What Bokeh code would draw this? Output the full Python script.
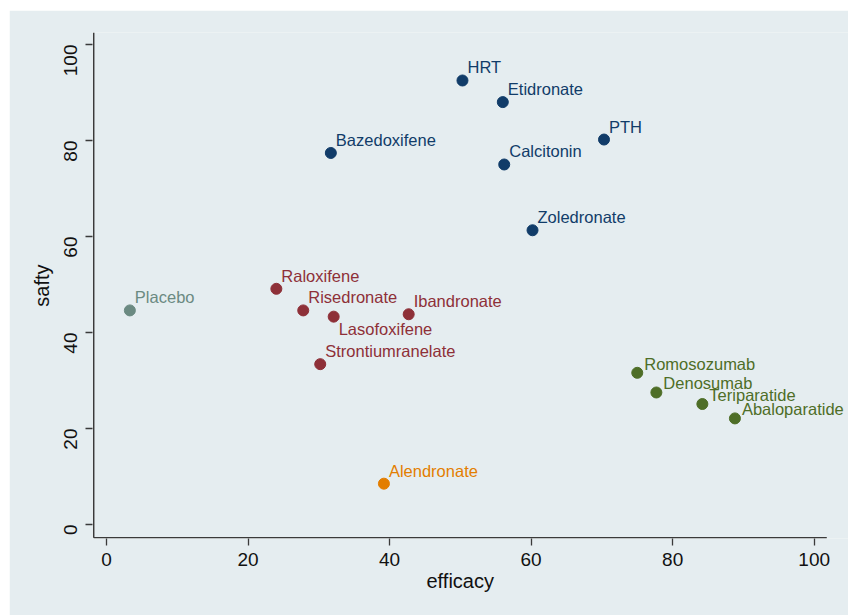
from bokeh.plotting import figure
from bokeh.models import ColumnDataSource, Range1d, FixedTicker, Label, Title
from bokeh.embed import file_html
from bokeh.resources import INLINE
import math

# Treatments with their efficacy and safety scores
drugs = ["HRT", "Etidronate", "PTH", "Bazedoxifene", "Calcitonin", "Zoledronate",
         "Raloxifene", "Placebo", "Risedronate", "Lasofoxifene", "Ibandronate",
         "Strontiumranelate", "Alendronate",
         "Romosozumab", "Denosumab", "Teriparatide", "Abaloparatide"]
efficacy = [50.3, 56.0, 70.3, 31.7, 56.2, 60.2,
            24.0, 3.3, 27.8, 32.1, 42.7,
            30.2, 39.2,
            75.0, 77.7, 84.2, 88.8]
safety = [92.5, 88.0, 80.2, 77.4, 75.0, 61.3,
          49.1, 44.6, 44.6, 43.3, 43.8,
          33.4, 8.5,
          31.6, 27.5, 25.1, 22.1]
cluster = ["A", "A", "A", "A", "A", "A",
           "B", "P", "B", "B", "B",
           "B", "C",
           "D", "D", "D", "D"]
# clock position of each marker label
label_pos = [2, 2, 2, 2, 2, 2,
             2, 2, 2, 4, 2,
             2, 2,
             3, 3, 3, 3]

x_ticks = [0, 20, 40, 60, 80, 100]
y_ticks = [0, 20, 40, 60, 80, 100]

cluster_colors = {"A": "#113C69", "B": "#8E3038", "P": "#6B8A82",
                  "C": "#E37E00", "D": "#4E6E27"}
# screen offsets (right, up) of the label's vertical middle from the marker centre
pos_offsets = {2: (5, 13), 3: (7, 9), 4: (5, -12)}

colors = [cluster_colors[c] for c in cluster]
src = ColumnDataSource(dict(drug=drugs, x=efficacy, y=safety, color=colors))

BG = "#E5EDF0"
FONT = "Liberation Sans"
AXC = "#3A3A3A"
TXT = "#111111"

# plotted area runs to the right edge so long labels are not cut off;
# the axis lines themselves stop at the axis extents below
X0, X1 = -1.98, 104.85
Y0, Y1 = -2.92, 102.5
AX_X0, AX_X1 = -1.81, 101.78
AX_Y0, AX_Y1 = -2.75, 102.5

W, H = 839, 605
p = figure(width=W, height=H, output_backend="svg", toolbar_location=None,
           x_range=Range1d(X0, X1), y_range=Range1d(Y0, Y1),
           min_border_left=83, min_border_right=0, min_border_top=22,
           min_border_bottom=77)
p.margin = (10, 0, 0, 9)
p.background_fill_color = BG
p.border_fill_color = BG
p.outline_line_color = None
p.grid.visible = False

# axis lines
p.segment(x0=[AX_X0, AX_X0], y0=[AX_Y0, AX_Y0], x1=[AX_X1, AX_X0], y1=[AX_Y0, AX_Y1],
          line_color=AXC, line_width=1.5)

p.scatter("x", "y", source=src, size=11, fill_color="color", line_color="color")

for name, xv, yv, col, pos in zip(drugs, efficacy, safety, colors, label_pos):
    dx, dy = pos_offsets[pos]
    p.add_layout(Label(x=xv, y=yv, text=name, x_offset=dx, y_offset=dy,
                       text_color=col, text_font=FONT, text_font_size="16.5px",
                       text_baseline="middle", text_align="left"))

for ax in (p.xaxis[0], p.yaxis[0]):
    ax.axis_line_color = None
    ax.major_tick_line_color = AXC
    ax.major_tick_line_width = 1.3
    ax.major_tick_out = 7
    ax.major_tick_in = 0
    ax.minor_tick_line_color = None
    ax.major_label_text_font = FONT
    ax.major_label_text_font_size = "19px"
    ax.major_label_text_color = TXT
    ax.axis_label_text_font = FONT
    ax.axis_label_text_font_size = "20px"
    ax.axis_label_text_font_style = "normal"
    ax.axis_label_text_color = TXT

p.xaxis.ticker = FixedTicker(ticks=x_ticks)
p.yaxis.ticker = FixedTicker(ticks=y_ticks)
p.yaxis.axis_label = "safty"
p.yaxis.major_label_orientation = math.pi / 2
p.xaxis.major_label_standoff = 7
p.yaxis.major_label_standoff = 15
p.yaxis.axis_label_standoff = 2

# x-axis title, set under the middle of the drawn axis line
p.add_layout(Title(text="efficacy", align="left", offset=334, standoff=0,
                   vertical_align="middle", text_font=FONT, text_font_size="20px",
                   text_font_style="normal", text_color=TXT), "below")

open("out.html", "w").write(file_html(p, INLINE))
